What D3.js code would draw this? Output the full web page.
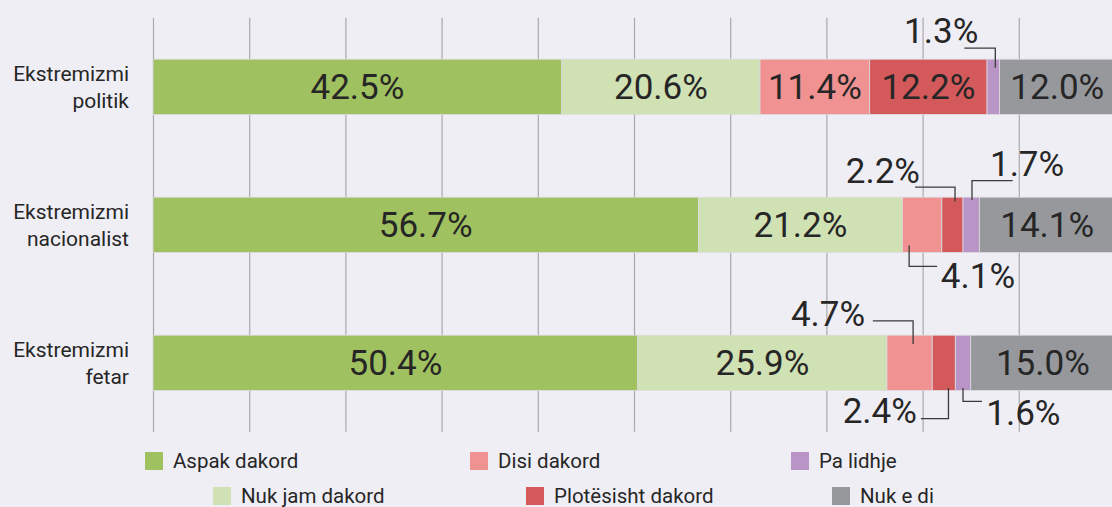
<!DOCTYPE html>
<html>
<head>
<meta charset="utf-8">
<script src="https://cdn.jsdelivr.net/npm/d3@7"></script>
<style>
  html, body { margin: 0; padding: 0; background: #f0eef5; }
  svg { display: block; }
  text { font-family: Roboto, "Noto Sans", sans-serif; fill: #262626; }
</style>
</head>
<body>
<svg id="chart" width="1112" height="507"></svg>
<script>
// Survey categories (rows) and answer series (stack order)
const categories = ["Ekstremizmi politik", "Ekstremizmi nacionalist", "Ekstremizmi fetar"];
const categoryLines = [["Ekstremizmi", "politik"], ["Ekstremizmi", "nacionalist"], ["Ekstremizmi", "fetar"]];
const seriesNames = ["Aspak dakord", "Nuk jam dakord", "Disi dakord", "Plotësisht dakord", "Pa lidhje", "Nuk e di"];
const seriesColors = ["#a0c15f", "#d0e1b4", "#f09291", "#d3595a", "#b994c6", "#97989c"];

// Percentages per series, in category order
const aspakDakord      = [42.5, 56.7, 50.4];
const nukJamDakord     = [20.6, 21.2, 25.9];
const disiDakord       = [11.4, 4.1, 4.7];
const plotesishtDakord = [12.2, 2.2, 2.4];
const paLidhje         = [1.3, 1.7, 1.6];
const nukEDi           = [12.0, 14.1, 15.0];
const seriesValues = [aspakDakord, nukJamDakord, disiDakord, plotesishtDakord, paLidhje, nukEDi];

// Segments too narrow for an inside label get a callout instead
const insideLabelMin = 10;
const callouts = [
  { cat: 0, s: 4, side: "top",    dx: 2,   inset: 8.5, rise: 11, run: -31, tdx: 14,  tdy: -5 },
  { cat: 1, s: 3, side: "top",    dx: 2.6, inset: 4.4, rise: 10, run: -40, tdx: 5,   tdy: -4.3 },
  { cat: 1, s: 4, side: "top",    dx: 0.8, inset: 2.7, rise: 16.6, run: 40.7, tdx: -22.7, tdy: -4.7 },
  { cat: 1, s: 2, side: "bottom", dx: -13, inset: 7,   rise: 14, run: 28, tdx: 3.7, tdy: 22 },
  { cat: 2, s: 2, side: "top",    dx: 3.5, inset: 8.7, rise: 14.3, run: -40.3, tdx: -7.7, tdy: 5 },
  { cat: 2, s: 3, side: "bottom", dx: 4.7, inset: 2.3, rise: 28.3, run: -27.6, tdx: -4, tdy: 4.4 },
  { cat: 2, s: 4, side: "bottom", dx: 0,   inset: 2.3, rise: 11, run: 19, tdx: 4.3, tdy: 24 }
];

const svg = d3.select("#chart");

const x = d3.scaleLinear().domain([0, 100]).range([153, 1115]);
const y = d3.scaleBand().domain(categories).range([17.8, 431.8]).paddingInner(0.6).paddingOuter(0.3);

// Table of rows for the stack layout
const rows = categories.map((c, i) => {
  const r = { category: c };
  seriesNames.forEach((s, j) => { r[s] = seriesValues[j][i]; });
  return r;
});
const stacked = d3.stack().keys(seriesNames)(rows);

// Vertical gridlines
svg.append("g")
  .selectAll("line")
  .data(d3.range(0, 100, 10))
  .join("line")
  .attr("x1", d => x(d) + 0.5).attr("x2", d => x(d) + 0.5)
  .attr("y1", y.range()[0]).attr("y2", y.range()[1])
  .attr("stroke", "#a9a8ad").attr("stroke-width", 1.2);

// Bars
const layers = svg.append("g").selectAll("g")
  .data(stacked)
  .join("g")
  .attr("fill", (d, i) => seriesColors[i]);

layers.selectAll("rect")
  .data(d => d)
  .join("rect")
  .attr("x", d => x(d[0]))
  .attr("y", d => y(d.data.category))
  .attr("width", d => x(d[1]) - x(d[0]))
  .attr("height", y.bandwidth())
  .attr("stroke", "#dcdbe0").attr("stroke-width", 0.8);

// Inside value labels
layers.selectAll("text")
  .data(d => d.filter(p => p[1] - p[0] >= insideLabelMin))
  .join("text")
  .attr("x", d => (x(d[0]) + x(d[1])) / 2)
  .attr("y", d => y(d.data.category) + y.bandwidth() / 2 + 12)
  .attr("text-anchor", "middle")
  .attr("font-size", 35)
  .text(d => d3.format(".1f")(d[1] - d[0]) + "%");

// Callouts for narrow segments
const cg = svg.append("g");
callouts.forEach(c => {
  const seg = stacked[c.s][c.cat];
  const val = seriesValues[c.s][c.cat];
  const top = y(categories[c.cat]);
  const bottom = top + y.bandwidth();
  const vx = (x(seg[0]) + x(seg[1])) / 2 + c.dx;
  const sign = c.side === "top" ? -1 : 1;
  const edge = c.side === "top" ? top : bottom;
  const y0 = edge - sign * c.inset;
  const ye = edge + sign * c.rise;
  const xe = vx + c.run;
  cg.append("path")
    .attr("d", `M${vx},${y0}V${ye}H${xe}`)
    .attr("fill", "none").attr("stroke", "#3a3a3a").attr("stroke-width", 1.3);
  cg.append("text")
    .attr("x", xe + c.tdx)
    .attr("y", ye + c.tdy)
    .attr("text-anchor", c.run < 0 ? "end" : "start")
    .attr("font-size", 35)
    .text(d3.format(".1f")(val) + "%");
});

// Category labels
const cl = svg.append("g").selectAll("text")
  .data(categories)
  .join("text")
  .attr("x", 129)
  .attr("y", d => y(d) + y.bandwidth() / 2)
  .attr("text-anchor", "end")
  .attr("font-size", 21);
cl.selectAll("tspan")
  .data((d, i) => categoryLines[i].map((t, k) => ({ t, k })))
  .join("tspan")
  .attr("x", 129)
  .attr("dy", d => d.k === 0 ? -5.5 : 27)
  .text(d => d.t);

// Legend: two staggered rows
const legendPos = [[145, 461], [213, 496], [470, 461], [526, 496], [791, 461], [832, 496]];
const lg = svg.append("g").selectAll("g")
  .data(seriesNames)
  .join("g")
  .attr("transform", (d, i) => `translate(${legendPos[i][0]},${legendPos[i][1]})`);
lg.append("rect")
  .attr("x", 0).attr("y", -9).attr("width", 18).attr("height", 18)
  .attr("fill", (d, i) => seriesColors[i]);
lg.append("text")
  .attr("x", 28).attr("y", 6.5)
  .attr("font-size", 20.5)
  .text(d => d);
</script>
</body>
</html>
